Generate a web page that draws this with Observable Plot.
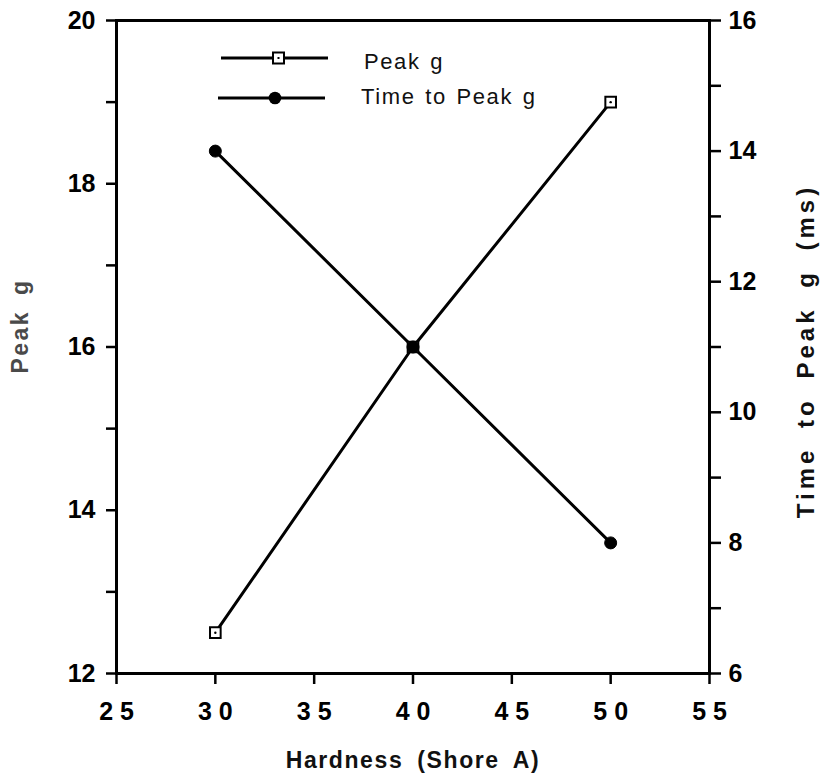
<!DOCTYPE html>
<html>
<head>
<meta charset="utf-8">
<script src="https://cdn.jsdelivr.net/npm/d3@7"></script>
<script src="https://cdn.jsdelivr.net/npm/@observablehq/plot@0.6"></script>
<style>
  html, body { margin: 0; padding: 0; background: white; }
  #wrap { position: relative; width: 822px; height: 775px; font-family: "Liberation Sans", Arial, sans-serif; }
  .leg { position: absolute; height: 24px; display: flex; align-items: center; font-size: 22px; color: #111;
         letter-spacing: 1.6px; word-spacing: 2px; white-space: pre; }
  .leg svg { display: block; margin-right: 36px; }
</style>
</head>
<body>
<div id="wrap"></div>
<script>
// ---- data ----
const hardness = [30, 40, 50];
const peakG = [12.5, 16, 19];
const timeToPeak = [14, 11, 8];
const xTicks = [25, 30, 35, 40, 45, 50, 55];
const leftTicks = [12, 13, 14, 15, 16, 17, 18, 19, 20];
const rightTicks = [6, 7, 8, 9, 10, 11, 12, 13, 14, 15, 16];
const seriesNames = ["Peak g", "Time to Peak g"];
const xLabel = "Hardness (Shore A)";
const yLabel = "Peak g";
const y2Label = "Time to Peak g (ms)";

// right axis domain [6,16] maps onto left domain [12,20]
const toLeft = t => 12 + (t - 6) * 0.8;
const fromLeft = v => Math.round((v - 12) / 0.8 + 6);

const rows = hardness.map((h, i) => ({h, peak: peakG[i], time: timeToPeak[i]}));

const font = "'Liberation Sans', Arial, sans-serif";

const chart = Plot.plot({
  width: 822,
  height: 775,
  marginLeft: 116,
  marginRight: 113,
  marginTop: 20,
  marginBottom: 102,
  x: {domain: [25, 55]},
  y: {domain: [12, 20]},
  style: {fontFamily: font, background: "white", color: "black"},
  marks: [
    Plot.axisX({ticks: xTicks, tickFormat: d => String(d).split("").join(" "), tickSize: 11, tickPadding: 18,
      fontWeight: "bold", strokeWidth: 2.5, label: null}),
    Plot.axisY({ticks: leftTicks, tickFormat: d => (d % 2 === 0 ? String(d) : ""), tickSize: 10, tickPadding: 11,
      fontWeight: "bold", strokeWidth: 2.5, label: null}),
    Plot.axisY({anchor: "right", ticks: rightTicks.map(toLeft), tickFormat: v => { const t = fromLeft(v); return t % 2 === 0 ? String(t) : ""; },
      tickSize: 11, tickPadding: 8, fontWeight: "bold", strokeWidth: 2.5, label: null}),
    Plot.frame({strokeWidth: 3}),
    Plot.line(rows, {x: "h", y: "peak", stroke: "black", strokeWidth: 3}),
    Plot.line(rows, {x: "h", y: d => toLeft(d.time), stroke: "black", strokeWidth: 3}),
    Plot.dot(rows, {x: "h", y: "peak", symbol: "square", r: 6, fill: "white", stroke: "black", strokeWidth: 2}),
    Plot.dot(rows, {x: "h", y: "peak", r: 1.2, fill: "black"}),
    Plot.dot(rows, {x: "h", y: d => toLeft(d.time), r: 6, fill: "black", stroke: "black", strokeWidth: 1}),
    Plot.text([xLabel], {text: d => d, frameAnchor: "bottom", dy: 87, fill: "#111",
      lineAnchor: "middle", textAnchor: "middle"}),
    Plot.text([yLabel], {text: d => d, frameAnchor: "left", dx: -96, dy: -21, rotate: -90,
      fill: "#4a4a4a", lineAnchor: "middle", textAnchor: "middle"}),
    Plot.text([y2Label], {text: d => d, frameAnchor: "right", dx: 97, dy: 4, rotate: -90,
      fill: "#111", lineAnchor: "middle", textAnchor: "middle"})
  ]
});

// typography tweaks
chart.querySelectorAll('g[aria-label$="tick label"] text').forEach(t => {
  t.style.fontSize = "25px";
  t.style.fontWeight = "bold";
});
chart.querySelectorAll("text").forEach(t => {
  const s = t.textContent;
  if (s === xLabel) { Object.assign(t.style, {fontSize: "23px", fontWeight: "bold", letterSpacing: "1.6px", wordSpacing: "6px"}); }
  if (s === yLabel) { Object.assign(t.style, {fontSize: "23px", fontWeight: "bold", letterSpacing: "2.5px", wordSpacing: "6px"}); }
  if (s === y2Label) { Object.assign(t.style, {fontSize: "24px", fontWeight: "bold", letterSpacing: "4px", wordSpacing: "8px"}); }
});
const wrap = document.getElementById("wrap");
wrap.appendChild(chart);

// legend (overlaid inside the frame)
const legendPos = [{left: 221, top: 46, textShift: 4, sym: "square"}, {left: 218, top: 86, textShift: -1, sym: "circle"}];
seriesNames.forEach((name, i) => {
  const p = legendPos[i];
  const div = document.createElement("div");
  div.className = "leg";
  div.style.left = p.left + "px";
  div.style.top = p.top + "px";
  const markerSvg = p.sym === "square"
    ? `<rect x="52" y="6.5" width="11" height="11" fill="white" stroke="black" stroke-width="2"/><rect x="56.5" y="11" width="2" height="2" fill="black"/>`
    : `<circle cx="57" cy="12" r="6.3" fill="black"/>`;
  div.innerHTML = `<svg width="107" height="24"><line x1="0" x2="107" y1="12" y2="12" stroke="black" stroke-width="3"/>${markerSvg}</svg><span style="position:relative;top:${p.textShift}px">${name}</span>`;
  wrap.appendChild(div);
});
</script>
</body>
</html>
